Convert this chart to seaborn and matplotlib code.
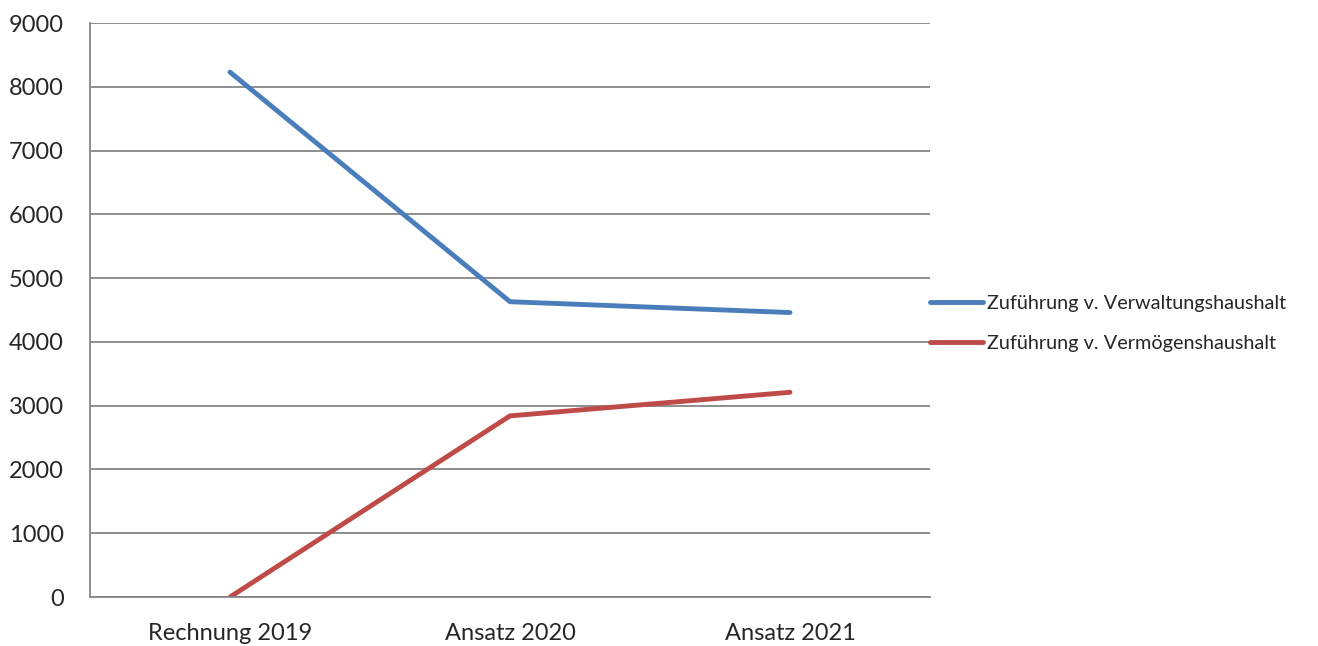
import pandas as pd
import matplotlib
matplotlib.use('Agg')
import matplotlib.pyplot as plt
import seaborn as sns

# Daten
kategorien = ['Rechnung 2019', 'Ansatz 2020', 'Ansatz 2021']
verwaltung = [8230, 4630, 4460]
vermoegen = [0, 2840, 3210]
serien = ['Zuführung v. Verwaltungshaushalt', 'Zuführung v. Vermögenshaushalt']
farben = ['#4A7EBB', '#BE4B48']

df = pd.DataFrame({
    'Kategorie': kategorien * 2,
    'Wert': verwaltung + vermoegen,
    'Serie': [serien[0]] * 3 + [serien[1]] * 3,
})

sns.set_style('white')
plt.rcParams['font.family'] = ['Lato', 'DejaVu Sans']

fig = plt.figure(figsize=(13.18, 6.46), dpi=100)
ax = fig.add_axes([90/1318, 49/646, 840/1318, 574/646])

sns.lineplot(data=df, x='Kategorie', y='Wert', hue='Serie', palette=farben,
             linewidth=3.5, ax=ax, sort=False, solid_capstyle='round')

grau = '#868686'
ax.set_xlim(-0.5, 2.5)
ax.set_ylim(0, 9000)
ax.set_yticks(range(0, 9001, 1000))
ax.yaxis.grid(True, color=grau, linewidth=1.3)
ax.set_axisbelow(True)
for s in ['top', 'right']:
    ax.spines[s].set_visible(False)
ax.spines['left'].set_color(grau)
ax.spines['bottom'].set_color(grau)
ax.spines['left'].set_linewidth(1.3)
ax.spines['bottom'].set_linewidth(1.3)

# Teilstriche an den Kategoriegrenzen
ax.set_xticks([-0.5, 0.5, 1.5, 2.5], minor=True)
ax.tick_params(axis='x', which='major', length=0, labelsize=17, pad=18.5)
ax.tick_params(axis='x', which='minor', length=6, color=grau, width=1.3)
ax.tick_params(axis='y', length=6, color=grau, width=1.3, labelsize=17, pad=13)
ax.set_xlabel('')
ax.set_ylabel('')

ax.legend(loc='center left', bbox_to_anchor=(1.0, 0.477), frameon=False,
          fontsize=14.3, handlelength=2.67, handletextpad=0.2, labelspacing=1.15,
          borderaxespad=0, borderpad=0)

plt.savefig('out.png', dpi=100)
